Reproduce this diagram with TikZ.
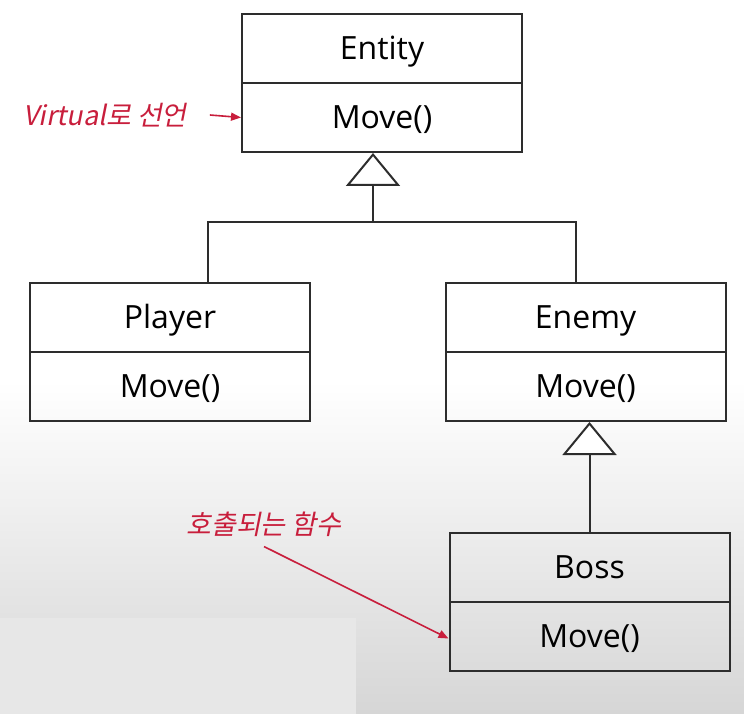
\documentclass[tikz,border=0pt]{standalone}
\usepackage{fontspec}
\setmainfont{Open Sans}
\newfontfamily\korean[FakeSlant=0.2]{Noto Sans CJK KR}
\usetikzlibrary{arrows.meta,positioning}
\definecolor{notered}{RGB}{200,30,60}
\definecolor{linegray}{RGB}{45,45,45}
\definecolor{bggray}{RGB}{214,214,214}
\definecolor{patchgray}{RGB}{231,231,231}
\tikzset{
  classbox/.style={draw=linegray, line width=2pt, minimum width=280pt, minimum height=69pt,
    inner sep=0pt, text height=26pt, text depth=4pt, font=\fontsize{32}{37}\selectfont},
  link/.style={draw=linegray, line width=2pt},
  inherit/.style={link, -{Triangle[fill=white, length=33pt, width=54pt]}},
  note/.style={text=notered, inner sep=0pt, font=\korean\fontsize{27}{32}\selectfont},
  pointer/.style={draw=notered, line width=1.6pt, -{Triangle[length=10pt, width=8pt]}}
}
\tikzset{
  pics/umlclass/.style args={#1/#2}{% #1=class name, #2=operation
    code = {
      \node[classbox, anchor=north] (-name) at (0,0) {#1};
      \node[classbox, anchor=north] (-op) at (0,-69) {#2};
}}}

\begin{document}
\begin{tikzpicture}[x=1pt, y=1pt]
  % background of the video frame
  \useasboundingbox (0,0) rectangle (744,-714);
  \shade[top color=white, bottom color=bggray] (0,-380) rectangle (744,-714);
  \fill[patchgray] (0,-618) rectangle (356,-714);

  \pic (entity) at (382,-13) {umlclass={Entity/Move()}};
  \pic (player) at (170,-282) {umlclass={Player/Move()}};
  \pic (enemy) at (585.5,-282) {umlclass={Enemy/Move()}};
  \pic (boss) at (589.5,-532) {umlclass={Boss/Move()}};

  \coordinate (fork) at (373,-222);
  \draw[inherit] (fork) -- (fork |- entity-op.south);
  \draw[link] ([xshift=38pt]player-name.north) |- (fork) -| ([xshift=-9.5pt]enemy-name.north);
  \draw[inherit] (boss-name.north) -- (boss-name.north |- enemy-op.south);

  \node[note] (virt) at (105,-115) {Virtual로 선언};
  \draw[pointer] ([xshift=23pt]virt.east) -- (entity-op.west);
  \node[note] (call) at (264,-524) {호출되는 함수};
  \draw[pointer] ([yshift=-10pt]call.south) -- ([yshift=-2pt]boss-op.west);
\end{tikzpicture}
\end{document}
